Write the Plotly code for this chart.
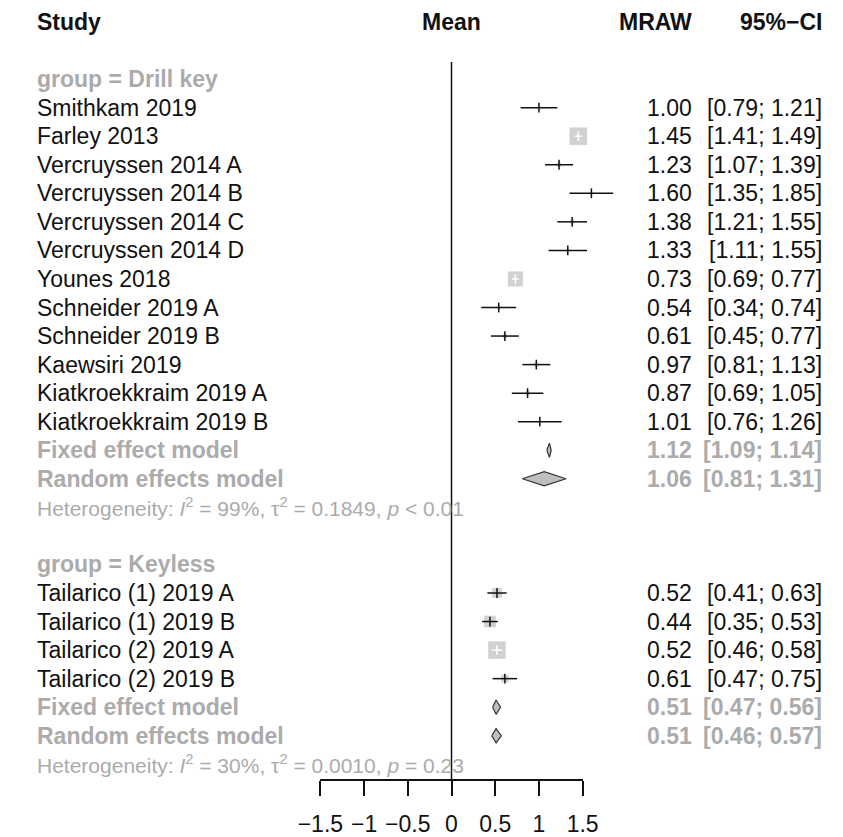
import math
import plotly.graph_objects as go

# ---------------- data ----------------
drill_studies = ["Smithkam 2019", "Farley 2013", "Vercruyssen 2014 A", "Vercruyssen 2014 B",
                 "Vercruyssen 2014 C", "Vercruyssen 2014 D", "Younes 2018", "Schneider 2019 A",
                 "Schneider 2019 B", "Kaewsiri 2019", "Kiatkroekkraim 2019 A", "Kiatkroekkraim 2019 B"]
drill_mean = [1.00, 1.45, 1.23, 1.60, 1.38, 1.33, 0.73, 0.54, 0.61, 0.97, 0.87, 1.01]
drill_lower = [0.79, 1.41, 1.07, 1.35, 1.21, 1.11, 0.69, 0.34, 0.45, 0.81, 0.69, 0.76]
drill_upper = [1.21, 1.49, 1.39, 1.85, 1.55, 1.55, 0.77, 0.74, 0.77, 1.13, 1.05, 1.26]
drill_weight = [1.6, 45.8, 2.8, 1.1, 2.4, 1.5, 34.1, 1.8, 2.8, 2.8, 2.2, 1.1]
drill_fixed = [1.12, 1.09, 1.14]
drill_random = [1.06, 0.81, 1.31]
drill_het = ("99%", "0.1849", "<", "0.01")

keyless_studies = ["Tailarico (1) 2019 A", "Tailarico (1) 2019 B", "Tailarico (2) 2019 A", "Tailarico (2) 2019 B"]
keyless_mean = [0.52, 0.44, 0.52, 0.61]
keyless_lower = [0.41, 0.35, 0.46, 0.47]
keyless_upper = [0.63, 0.53, 0.58, 0.75]
keyless_weight = [15.5, 23.1, 51.9, 9.5]
keyless_fixed = [0.51, 0.47, 0.56]
keyless_random = [0.51, 0.46, 0.57]
keyless_het = ("30%", "0.0010", "=", "0.23")

axis_ticks = [-1.5, -1, -0.5, 0, 0.5, 1, 1.5]

# ---------------- style / layout constants ----------------
W, H = 843, 837
X0_PX = 449.3          # pixel of x = 0
PX_PER_UNIT = 91.67
ROW0_PX = 22.0
ROW_PX = 28.55
AXIS_PX = 779.3
BOX_MAX = 17.5
FONT = "Liberation Sans, Arial, sans-serif"
FS = 23
FS_HET = 21
GREY_TXT = "#ABABAB"
GREY_BOX = "#BEBEBE"
BLACK = "#111111"
X_LEFT = 13 / W
X_MEAN_RIGHT = 704 / W
X_CI_RIGHT = 840 / W

xr = [-X0_PX / PX_PER_UNIT, (W - X0_PX) / PX_PER_UNIT]
yr = [(H - ROW0_PX) / ROW_PX, -ROW0_PX / ROW_PX]

fig = go.Figure()
ann = []


def text(x, row, s, anchor="left", color=BLACK, bold=False, size=FS):
    if bold:
        s = "<b>" + s + "</b>"
    ann.append(dict(x=x, y=row, xref="paper", yref="y", text=s, showarrow=False,
                    xanchor=anchor, yanchor="middle",
                    font=dict(family=FONT, size=size, color=color)))


# header
text(X_LEFT, 0, "Study", bold=True)
text((X0_PX) / W, 0, "Mean", anchor="center", bold=True)
text(X_MEAN_RIGHT, 0, "MRAW", anchor="right", bold=True)
text(X_CI_RIGHT, 0, "95%\u2212CI", anchor="right", bold=True)

black_x, black_y, white_x, white_y = [], [], [], []
sq_x, sq_y, sq_s = [], [], []
tick_bx, tick_by, tick_wx, tick_wy = [], [], [], []


def group(label, start_row, studies, mean, lower, upper, weight, fixed, random, het):
    text(X_LEFT, start_row, "group = " + label, color=GREY_TXT, bold=True)
    wmax = max(weight)
    for i, name in enumerate(studies):
        r = start_row + 1 + i
        text(X_LEFT, r, name)
        text(X_MEAN_RIGHT, r, f"{mean[i]:.2f}", anchor="right")
        text(X_CI_RIGHT, r, f"[{lower[i]:.2f}; {upper[i]:.2f}]", anchor="right")
        size = BOX_MAX * math.sqrt(weight[i] / wmax)
        sq_x.append(mean[i]); sq_y.append(r); sq_s.append(size)
        inside = (upper[i] - lower[i]) * PX_PER_UNIT < size
        if inside:
            white_x.extend([lower[i], upper[i], None]); white_y.extend([r, r, None])
            tick_wx.append(mean[i]); tick_wy.append(r)
        else:
            black_x.extend([lower[i], upper[i], None]); black_y.extend([r, r, None])
            tick_bx.append(mean[i]); tick_by.append(r)
    rf = start_row + 1 + len(studies)
    for k, (nm, vals) in enumerate([("Fixed effect model", fixed), ("Random effects model", random)]):
        r = rf + k
        text(X_LEFT, r, nm, color=GREY_TXT, bold=True)
        text(X_MEAN_RIGHT, r, f"{vals[0]:.2f}", anchor="right", color=GREY_TXT, bold=True)
        text(X_CI_RIGHT, r, f"[{vals[1]:.2f}; {vals[2]:.2f}]", anchor="right", color=GREY_TXT, bold=True)
        h = 0.25
        fig.add_trace(go.Scatter(
            x=[vals[1], vals[0], vals[2], vals[0], vals[1]],
            y=[r, r - h, r, r + h, r],
            mode="lines", fill="toself", fillcolor=GREY_BOX,
            line=dict(color="#333333", width=1.2), hoverinfo="skip", showlegend=False))
    i2, tau2, op, p = het
    het_txt = (f"Heterogeneity: <i>I</i><sup>2</sup> = {i2}, \u03c4<sup>2</sup> = {tau2}, "
               f"<i>p</i> {op} {p}")
    text(X_LEFT, rf + 2, het_txt, color=GREY_TXT, size=FS_HET)


group("Drill key", 2, drill_studies, drill_mean, drill_lower, drill_upper, drill_weight,
      drill_fixed, drill_random, drill_het)
group("Keyless", 19, keyless_studies, keyless_mean, keyless_lower, keyless_upper, keyless_weight,
      keyless_fixed, keyless_random, keyless_het)

axis_row = (AXIS_PX - ROW0_PX) / ROW_PX

# reference line at 0
fig.add_trace(go.Scatter(x=[0, 0], y=[1.4, axis_row], mode="lines",
                         line=dict(color=BLACK, width=1.5), hoverinfo="skip", showlegend=False))
# squares
fig.add_trace(go.Scatter(x=sq_x, y=sq_y, mode="markers",
                         marker=dict(symbol="square", size=sq_s, color=GREY_BOX, line=dict(width=0)),
                         hoverinfo="skip", showlegend=False))
# CI lines
fig.add_trace(go.Scatter(x=black_x, y=black_y, mode="lines", line=dict(color=BLACK, width=1.5),
                         hoverinfo="skip", showlegend=False))
fig.add_trace(go.Scatter(x=white_x, y=white_y, mode="lines", line=dict(color="white", width=1.5),
                         hoverinfo="skip", showlegend=False))
fig.add_trace(go.Scatter(x=tick_bx, y=tick_by, mode="markers",
                         marker=dict(symbol="line-ns", size=7, line=dict(color=BLACK, width=1.5)),
                         hoverinfo="skip", showlegend=False))
fig.add_trace(go.Scatter(x=tick_wx, y=tick_wy, mode="markers",
                         marker=dict(symbol="line-ns", size=7, line=dict(color="white", width=1.5)),
                         hoverinfo="skip", showlegend=False))

# bottom axis (separate x axis for ticks)
fig.add_trace(go.Scatter(x=[axis_ticks[0], axis_ticks[-1]], y=[0, 0], xaxis="x2", yaxis="y2",
                         mode="markers", marker=dict(opacity=0), hoverinfo="skip", showlegend=False))

d0 = 1 - AXIS_PX / H
fig.update_layout(
    width=W, height=H,
    margin=dict(l=0, r=0, t=0, b=0),
    paper_bgcolor="white", plot_bgcolor="rgba(0,0,0,0)",
    showlegend=False,
    xaxis=dict(range=xr, domain=[0, 1], visible=False, fixedrange=True),
    yaxis=dict(range=yr, domain=[0, 1], visible=False, fixedrange=True),
    xaxis2=dict(range=[axis_ticks[0], axis_ticks[-1]],
                domain=[(X0_PX + axis_ticks[0] * PX_PER_UNIT) / W, (X0_PX + axis_ticks[-1] * PX_PER_UNIT) / W],
                anchor="y2", side="bottom", showline=True, linecolor=BLACK, linewidth=1.5,
                ticks="outside", ticklen=15, tickwidth=1.5, tickcolor=BLACK,
                tickvals=axis_ticks, showgrid=False, zeroline=False,
                tickfont=dict(family=FONT, size=FS, color=BLACK), ticklabelstandoff=8,
                fixedrange=True),
    yaxis2=dict(domain=[d0, d0 + 0.01], anchor="x2", visible=False, range=[0, 1], fixedrange=True),
    annotations=ann,
)

fig.write_html("out.html")
